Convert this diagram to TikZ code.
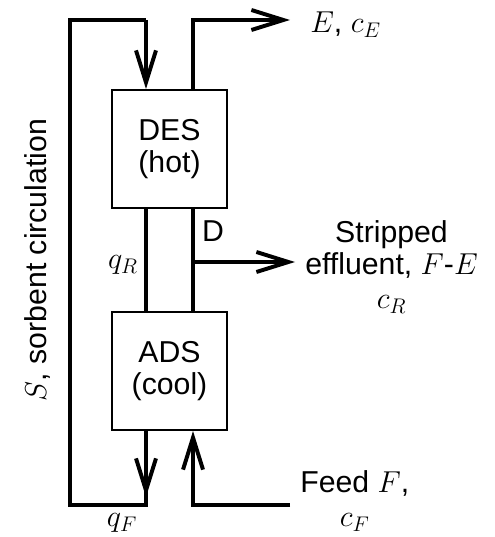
\RequirePackage{fix-cm}
\documentclass[tikz,border=0pt]{standalone}
\usepackage{fontspec}
\setsansfont{Liberation Sans}
\usepackage{tikz}
\usetikzlibrary{arrows.meta, positioning}

\begin{document}
\begin{tikzpicture}[
  x=0.025cm, y=-0.025cm,
  font=\sffamily\fontsize{21.5}{22.5}\selectfont,
  unit/.style={rectangle, draw=black, line width=1.4pt, minimum width=2.875cm, minimum height=2.95cm, align=center},
  stream/.style={line width=2.8pt},
  arrow/.style={stream, -{Straight Barb[length=0.8cm, width=0.5cm]}},
  tag/.style={align=center, inner sep=0.25cm}
]
\useasboundingbox (0,0) rectangle (494,537);

% Desorber and adsorber
\node (des) [unit] at (169.5,149) {DES\\(hot)};
\node (ads) [unit, below=2.55cm of des] {ADS\\(cool)};

% Stream ports on the boxes
\coordinate (desNL) at ([xshift=-0.5875cm]des.north);
\coordinate (desNR) at ([xshift=0.5875cm]des.north);
\coordinate (desSL) at ([xshift=-0.5875cm]des.south);
\coordinate (desSR) at ([xshift=0.5875cm]des.south);
\coordinate (adsNL) at ([xshift=-0.5875cm]ads.north);
\coordinate (adsNR) at ([xshift=0.5875cm]ads.north);
\coordinate (adsSL) at ([xshift=-0.5875cm]ads.south);
\coordinate (adsSR) at ([xshift=0.5875cm]ads.south);

% Free ends of the streams
\coordinate (loopTop) at (70,20);
\coordinate (loopBot) at (70,505);
\coordinate (extEnd) at (290,20);
\coordinate (split) at (193,262);
\coordinate (raffEnd) at (295,262);
\coordinate (feedIn) at (290,505);

% Sorbent circulation loop
\draw [stream] (adsSL) -- (loopBot -| adsSL) -- (loopBot) -- (loopTop) -- (loopTop -| desNL);
\draw [arrow] (adsSL) -- ([yshift=0.2cm]loopBot -| adsSL);
\draw [arrow] (loopTop -| desNL) -- (desNL);
\draw [stream] (desSL) -- (adsNL);

% Extract, effluent and feed
\draw [arrow] (desNR) -- (extEnd -| desNR) -- (extEnd);
\draw [stream] (desSR) -- (adsNR);
\draw [arrow] (split) -- (raffEnd);
\draw [arrow] (feedIn) -- (feedIn -| adsSR) -- (adsSR);

% Labels
\node (extLbl) [tag, right, xshift=0.25cm, yshift=-0.12cm] at (extEnd) {$E$, $c_E$};
\node (raffLbl) [tag, right, yshift=-0.12cm] at (raffEnd) {Stripped\\effluent, $F$-$E$\\[2pt]$c_R$};
\node (feedLbl) [tag, right, yshift=0.1cm] at (feedIn) {Feed $F$,\\[2pt]$c_F$};
\node (dLbl) at (213,231) {D};
\node (qR) at (123,265) {$q_R$};
\node (qF) at (122,523) {$q_F$};
\node (sLbl) [rotate=90] at (37,260) {$S$, sorbent circulation};

\end{tikzpicture}
\end{document}
